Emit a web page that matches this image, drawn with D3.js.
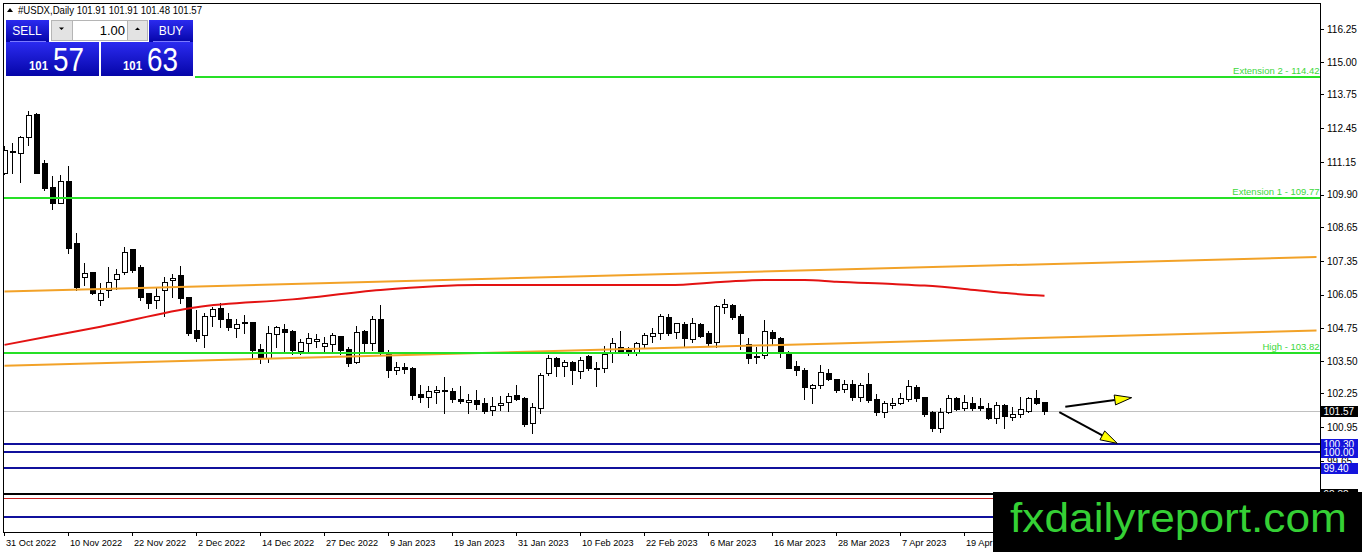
<!DOCTYPE html>
<html>
<head>
<meta charset="utf-8">
<title>#USDX Daily</title>
<script src="https://cdnjs.cloudflare.com/ajax/libs/d3/7.8.5/d3.min.js"></script>
<style>
body {
  margin: 0;
  background: #fff;
  font-family: "Liberation Sans", Arial, sans-serif;
}
svg { display: block; }
.axis text {
  font-family: "Liberation Sans", Arial, sans-serif;
  font-size: 10px;
  fill: #000;
}
.xaxis text { font-size: 9.2px; }
.axis line { stroke: #000; shape-rendering: crispEdges; }
</style>
</head>
<body>
<svg id="chart" width="1362" height="552"></svg>
<script>

// daily candles, 31 Oct 2022 .. 3 May 2023 (one per trading day)
var opens = [110.74,111.53,111.49,112.13,113.00,111.13,110.18,109.59,110.43,108.03,
  106.74,106.93,105.85,106.23,106.64,106.93,107.80,107.10,106.10,105.85,
  106.23,106.60,106.81,105.95,104.69,104.50,105.23,105.53,105.10,104.76,
  104.95,105.01,103.95,103.60,104.53,104.74,104.66,103.90,104.18,104.28,
  104.08,104.15,104.46,103.95,103.47,104.66,104.18,105.10,103.86,103.15,
  103.26,103.22,102.22,102.13,102.32,102.39,102.36,102.04,101.91,102.00,
  101.87,101.62,101.80,101.91,102.19,102.09,101.10,101.68,103.05,103.60,
  103.31,103.46,103.13,103.69,103.24,103.22,103.86,104.03,103.92,103.86,
  104.14,104.47,104.57,105.18,104.60,104.92,104.33,104.92,104.59,104.24,
  105.57,105.65,105.23,104.15,103.68,103.73,104.60,104.37,103.80,103.31,
  103.15,102.45,102.58,103.03,102.81,102.41,102.60,102.13,102.60,102.04,
  101.53,101.81,101.87,102.04,102.51,102.13,101.53,100.93,101.53,102.09,
  101.68,101.87,101.77,101.70,101.30,101.81,101.36,101.45,101.58,102.07,
  101.91];
var highs = [111.75,111.88,112.15,113.13,113.02,111.23,110.62,110.65,111.00,108.41,
  107.26,106.93,106.49,107.10,107.04,107.90,107.80,107.19,106.10,106.33,
  106.72,106.83,107.15,105.95,105.46,105.33,105.59,105.74,105.36,105.10,
  105.27,105.01,104.15,104.85,104.85,104.92,104.69,104.35,104.59,104.53,
  104.43,104.57,104.46,104.05,104.85,104.69,105.23,105.65,103.92,103.47,
  103.42,103.28,102.58,102.54,102.54,102.87,102.45,102.54,102.22,102.39,
  102.09,102.10,102.15,102.28,102.58,102.13,101.87,103.05,103.73,103.67,
  103.54,103.51,103.64,103.73,103.47,104.08,104.37,104.67,104.05,104.24,
  104.59,104.78,105.31,105.31,104.97,105.01,105.14,104.97,104.67,105.65,
  105.87,105.69,105.31,104.37,104.03,105.08,104.69,104.43,103.90,103.51,
  103.22,102.60,103.35,103.19,102.81,102.77,102.77,102.64,103.03,102.22,
  101.96,102.09,102.26,102.77,102.58,102.13,101.58,101.70,102.19,102.13,
  102.19,102.13,102.06,101.87,101.94,101.83,101.74,102.13,102.13,102.39,
  101.91];
var lows = [110.70,110.73,110.40,111.81,110.72,110.08,109.33,109.57,107.66,106.23,
  106.42,106.08,105.65,105.95,106.26,106.85,106.94,105.85,105.53,105.53,
  105.23,105.97,105.72,104.50,104.28,104.03,104.85,104.80,104.69,104.41,
  104.59,103.60,103.41,103.47,104.03,103.82,103.77,103.77,103.82,104.05,
  103.86,103.82,103.77,103.31,103.41,103.82,103.92,103.77,102.90,103.00,
  103.05,102.03,101.93,101.72,101.90,101.49,101.93,101.90,101.51,101.64,
  101.51,101.42,101.62,101.58,102.00,101.00,100.74,101.49,102.96,102.92,
  102.92,102.60,102.86,103.15,102.54,103.09,103.47,103.86,103.73,103.73,
  104.03,104.24,104.35,104.50,104.37,104.05,104.24,104.43,104.12,104.05,
  105.33,105.10,103.95,103.43,103.43,103.60,104.12,103.64,103.24,102.96,
  102.03,101.87,102.45,102.77,102.32,102.32,102.00,101.96,101.93,101.42,
  101.36,101.70,101.83,101.96,101.96,101.40,100.81,100.76,101.49,101.62,
  101.62,101.62,101.62,101.27,101.13,100.93,101.23,101.36,101.55,101.83,
  101.48];
var closes = [111.62,111.57,112.10,112.96,110.74,110.17,109.59,110.43,107.83,106.36,
  106.90,106.13,106.10,106.53,106.83,107.68,107.00,105.97,105.72,106.01,
  106.55,106.68,105.91,104.59,104.40,105.23,105.49,105.10,104.80,104.91,
  104.99,103.92,103.60,104.57,104.80,104.63,103.92,104.22,104.37,104.33,
  104.18,104.50,103.92,103.43,104.63,104.20,105.10,103.82,103.15,103.26,
  103.20,102.19,102.13,102.35,102.37,102.35,102.03,101.95,102.00,101.85,
  101.59,101.77,101.88,102.16,102.03,101.08,101.72,102.96,103.60,103.31,
  103.46,103.15,103.54,103.22,103.20,103.77,104.18,103.86,103.88,104.18,
  104.50,104.57,105.23,104.59,104.95,104.37,104.95,104.47,104.20,105.62,
  105.69,105.20,104.59,103.60,103.64,104.67,104.37,103.86,103.24,103.15,
  102.49,102.57,103.07,102.81,102.38,102.60,102.13,102.58,102.00,101.53,
  101.87,101.87,102.09,102.54,102.09,101.45,100.93,101.53,102.09,101.65,
  101.92,101.70,101.68,101.30,101.81,101.40,101.45,101.66,102.09,101.90,
  101.57];

// bottom axis: every 8th bar
var dateTicks = [0, 8, 16, 24, 32, 40, 48, 56, 64, 72, 80, 88, 96, 104, 112, 120, 128];
var dateLabels = ['31 Oct 2022', '10 Nov 2022', '22 Nov 2022', '2 Dec 2022', '14 Dec 2022',
  '27 Dec 2022', '9 Jan 2023', '19 Jan 2023', '31 Jan 2023', '10 Feb 2023', '22 Feb 2023',
  '6 Mar 2023', '16 Mar 2023', '28 Mar 2023', '7 Apr 2023', '19 Apr 2023', '1 May 2023'];
var priceTicks = [116.25, 115.00, 113.75, 112.45, 111.15, 109.90, 108.65, 107.35,
  106.05, 104.75, 103.50, 102.25, 100.95, 99.65, 98.35];

// moving average (red), read every few bars
var maIdx = [0, 6, 12, 24, 36, 47, 59, 71, 83, 90, 95, 100, 104, 111, 115, 120, 124, 130];
var maVals = [104.12, 104.47, 104.82, 105.57, 105.87, 106.23, 106.42, 106.42, 106.42,
  106.55, 106.62, 106.62, 106.55, 106.46, 106.40, 106.27, 106.14, 106.01];

// orange channel, two end points each
var channelIdx = [0, 164];
var channelUpper = [106.17, 107.50];
var channelLower = [103.32, 104.67];

// horizontal objects
var bidPrice = 101.57;
var targetLevels = [114.42, 109.77, 103.82];
var targetNames = ['Extension 2', 'Extension 1', 'High'];
var supportLevels = [100.30, 100.00, 99.40, 97.50];
var blackLevel = 98.38;
var redLevel = 98.23;

// the two forecast arrows (bar index, price)
var arrowFrom = [[132.6, 101.74], [131.85, 101.53]];
var arrowTo = [[140.9, 102.09], [139.1, 100.33]];

var header = '#USDX,Daily  101.91 101.91 101.48 101.57';

// plot frame (note: "top" is taken by window.top)
var pLeft = 3.5, pTop = 3.5, pRight = 1320.5, pBottom = 532.5;

var svg = d3.select('#chart');

var x = d3.scaleLinear().domain([0, 164.4375]).range([4.5, 1320]);
var y = d3.scaleLinear().domain([96.923, 117.25]).range([532, 3.5]);

function yy(v) { return Math.round(y(v)); }

var defs = svg.append('defs');
defs.append('clipPath').attr('id', 'plotclip')
  .append('rect').attr('x', pLeft + 0.5).attr('y', pTop + 0.5)
  .attr('width', pRight - pLeft - 1).attr('height', pBottom - pTop - 1);

var blue = defs.append('linearGradient').attr('id', 'btn')
  .attr('x1', 0).attr('y1', 0).attr('x2', 0).attr('y2', 1);
blue.append('stop').attr('offset', '0%').attr('stop-color', '#2b2bf0');
blue.append('stop').attr('offset', '100%').attr('stop-color', '#0505a8');

var plot = svg.append('g').attr('clip-path', 'url(#plotclip)');

// bid line
plot.append('line')
  .attr('x1', pLeft).attr('x2', pRight)
  .attr('y1', yy(bidPrice) + 0.5).attr('y2', yy(bidPrice) + 0.5)
  .style('stroke', '#c0c0c0').style('shape-rendering', 'crispEdges');

/**
 * Candles
 */
var candles = opens.map(function(o, i) {
  return { i: i, o: o, h: highs[i], l: lows[i], c: closes[i] };
});

function cx(d) { return Math.floor(x(d.i)) + 0.5; }

var cg = plot.append('g').style('shape-rendering', 'crispEdges');
cg.selectAll('line.wick').data(candles).enter().append('line')
  .attr('class', 'wick')
  .attr('x1', cx).attr('x2', cx)
  .attr('y1', function(d) { return yy(d.h); })
  .attr('y2', function(d) { return yy(d.l) + 1; })
  .style('stroke', '#000');

cg.selectAll('rect.body').data(candles).enter().append('rect')
  .attr('class', 'body')
  .attr('x', function(d) { return cx(d) - 2.5; })
  .attr('width', 5)
  .attr('y', function(d) { return yy(Math.max(d.o, d.c)) + 0.5; })
  .attr('height', function(d) { return Math.max(yy(Math.min(d.o, d.c)) - yy(Math.max(d.o, d.c)), 0.01); })
  .style('fill', function(d) { return d.c >= d.o ? '#fff' : '#000'; })
  .style('stroke', '#000');

// red moving average
plot.append('path')
  .datum(maIdx.map(function(d, k) { return [d, maVals[k]]; }))
  .attr('d', d3.line()
    .x(function(d) { return x(d[0]); })
    .y(function(d) { return y(d[1]); })
    .curve(d3.curveMonotoneX))
  .style('fill', 'none').style('stroke', '#e31212').style('stroke-width', 2);

// orange channel
[channelUpper, channelLower].forEach(function(ch) {
  plot.append('line')
    .attr('x1', x(channelIdx[0])).attr('y1', y(ch[0]))
    .attr('x2', x(channelIdx[1])).attr('y2', y(ch[1]))
    .style('stroke', '#f2a228').style('stroke-width', 2);
});

// target levels
targetLevels.forEach(function(v, k) {
  plot.append('line')
    .attr('x1', pLeft).attr('x2', pRight).attr('y1', yy(v)).attr('y2', yy(v))
    .style('stroke', '#26e026').style('stroke-width', 2).style('shape-rendering', 'crispEdges');
  svg.append('text')
    .attr('x', pRight - 1).attr('y', yy(v) - 3)
    .attr('text-anchor', 'end')
    .style('font-size', '9.5px').style('fill', '#3cd83c')
    .text(targetNames[k] + ' - ' + v.toFixed(2));
});

// support levels
supportLevels.forEach(function(v) {
  plot.append('line')
    .attr('x1', pLeft).attr('x2', pRight).attr('y1', yy(v)).attr('y2', yy(v))
    .style('stroke', '#10109c').style('stroke-width', 2).style('shape-rendering', 'crispEdges');
});
plot.append('line')
  .attr('x1', pLeft).attr('x2', pRight).attr('y1', yy(blackLevel)).attr('y2', yy(blackLevel))
  .style('stroke', '#000').style('stroke-width', 2).style('shape-rendering', 'crispEdges');
plot.append('line')
  .attr('x1', pLeft).attr('x2', pRight).attr('y1', yy(redLevel) + 0.5).attr('y2', yy(redLevel) + 0.5)
  .style('stroke', '#c82020').style('stroke-width', 1).style('shape-rendering', 'crispEdges');

// arrows
arrowFrom.forEach(function(a, k) {
  var x1 = x(a[0]), y1 = y(a[1]);
  var x2 = x(arrowTo[k][0]), y2 = y(arrowTo[k][1]);
  var len = Math.sqrt((x2 - x1) * (x2 - x1) + (y2 - y1) * (y2 - y1));
  var ux = (x2 - x1) / len, uy = (y2 - y1) / len;
  var bx = x2 - ux * 17, by = y2 - uy * 17;
  plot.append('line')
    .attr('x1', x1).attr('y1', y1).attr('x2', bx).attr('y2', by)
    .style('stroke', '#000').style('stroke-width', 2);
  plot.append('polygon')
    .attr('points', [[x2, y2], [bx - uy * 5, by + ux * 5], [bx + uy * 5, by - ux * 5]].join(' '))
    .style('fill', '#ffff00').style('stroke', '#000').style('stroke-width', 1);
});

// frame
svg.append('rect')
  .attr('x', pLeft).attr('y', pTop)
  .attr('width', pRight - pLeft - 0.5).attr('height', pBottom - pTop - 0.5)
  .style('fill', 'none').style('stroke', '#000').style('shape-rendering', 'crispEdges');

/**
 * Axes
 */
var yAxis = svg.append('g').attr('class', 'axis')
  .attr('transform', 'translate(' + (pRight - 0.5) + ',0)')
  .call(d3.axisRight(y).tickValues(priceTicks).tickSize(4).tickPadding(3)
    .tickFormat(d3.format('.2f')));
yAxis.select('.domain').remove();

var xAxis = svg.append('g').attr('class', 'axis xaxis')
  .attr('transform', 'translate(0,' + (pBottom - 0.5) + ')')
  .call(d3.axisBottom(x).tickValues(dateTicks).tickSize(4).tickPadding(3)
    .tickFormat(function(d, k) { return dateLabels[k]; }));
xAxis.select('.domain').remove();
xAxis.selectAll('.tick line').attr('transform', 'translate(-0.5,0)');
xAxis.selectAll('.tick text').attr('text-anchor', 'start').attr('x', 1);

// price tags on the right scale
function tag(v, fill) {
  var g = svg.append('g');
  g.append('rect')
    .attr('x', pRight + 0.5).attr('y', yy(v) - 5.5)
    .attr('width', 37).attr('height', 11)
    .style('fill', fill).style('shape-rendering', 'crispEdges');
  g.append('text')
    .attr('x', pRight + 3).attr('y', yy(v) + 4)
    .style('font-size', '10px').style('fill', '#fff')
    .text(v.toFixed(2));
}
tag(blackLevel, '#000');
tag(supportLevels[3], '#1414dc');
tag(supportLevels[2], '#1414dc');
tag(supportLevels[0], '#1414dc');
tag(supportLevels[1], '#1414dc');
tag(bidPrice, '#000');

/**
 * Header and one-click trading panel
 */
svg.append('polygon').attr('points', '7,12 13,12 10,8').style('fill', '#000');
svg.append('text').attr('x', 18).attr('y', 14)
  .attr('textLength', 184).attr('lengthAdjust', 'spacingAndGlyphs')
  .style('font-size', '10.5px').style('fill', '#000')
  .text(header);

var panel = svg.append('g');
panel.append('rect').attr('x', 4).attr('y', 18).attr('width', 191).attr('height', 60).style('fill', '#fff');
panel.append('rect').attr('x', 6).attr('y', 20).attr('width', 43).attr('height', 22).style('fill', 'url(#btn)');
panel.append('rect').attr('x', 149).attr('y', 20).attr('width', 44).attr('height', 22).style('fill', 'url(#btn)');
panel.append('rect').attr('x', 6).attr('y', 42).attr('width', 93).attr('height', 34).style('fill', 'url(#btn)');
panel.append('rect').attr('x', 101).attr('y', 42).attr('width', 92).attr('height', 34).style('fill', 'url(#btn)');
panel.append('line').attr('x1', 10).attr('x2', 46).attr('y1', 41.5).attr('y2', 41.5).style('stroke', '#7a7aff');
panel.append('line').attr('x1', 153).attr('x2', 190).attr('y1', 41.5).attr('y2', 41.5).style('stroke', '#7a7aff');

panel.append('rect').attr('x', 51.5).attr('y', 20.5).attr('width', 21).attr('height', 20)
  .style('fill', '#e3e3e3').style('stroke', '#b5b5b5');
panel.append('rect').attr('x', 72.5).attr('y', 20.5).attr('width', 55).attr('height', 20)
  .style('fill', '#fff').style('stroke', '#b5b5b5');
panel.append('rect').attr('x', 127.5).attr('y', 20.5).attr('width', 20).attr('height', 20)
  .style('fill', '#e3e3e3').style('stroke', '#b5b5b5');
panel.append('polygon').attr('points', '59,27.5 64,27.5 61.5,30').style('fill', '#000');
panel.append('polygon').attr('points', '135,30 140,30 137.5,27.5').style('fill', '#000');
panel.append('text').attr('x', 125).attr('y', 35).attr('text-anchor', 'end')
  .style('font-size', '13px').style('fill', '#000').text('1.00');

panel.append('text').attr('x', 27).attr('y', 35).attr('text-anchor', 'middle')
  .style('font-size', '12px').style('fill', '#fff').text('SELL');
panel.append('text').attr('x', 171).attr('y', 35).attr('text-anchor', 'middle')
  .style('font-size', '12px').style('fill', '#fff').text('BUY');

[[29, 53, '101', '57'], [123, 147, '101', '63']].forEach(function(p) {
  panel.append('text').attr('x', p[0]).attr('y', 69.5)
    .attr('textLength', 19).attr('lengthAdjust', 'spacingAndGlyphs')
    .style('font-size', '12.5px').style('font-weight', 'bold').style('fill', '#fff').text(p[2]);
  panel.append('text').attr('x', p[1]).attr('y', 71)
    .attr('textLength', 31).attr('lengthAdjust', 'spacingAndGlyphs')
    .style('font-size', '33px').style('fill', '#fff').text(p[3]);
});

// watermark
svg.append('rect').attr('x', 993).attr('y', 492).attr('width', 369).attr('height', 60).style('fill', '#000');
svg.append('text').attr('x', 1010).attr('y', 532)
  .attr('textLength', 337).attr('lengthAdjust', 'spacingAndGlyphs')
  .style('font-size', '40px').style('fill', '#35d035')
  .text('fxdailyreport.com');

</script>
</body>
</html>
